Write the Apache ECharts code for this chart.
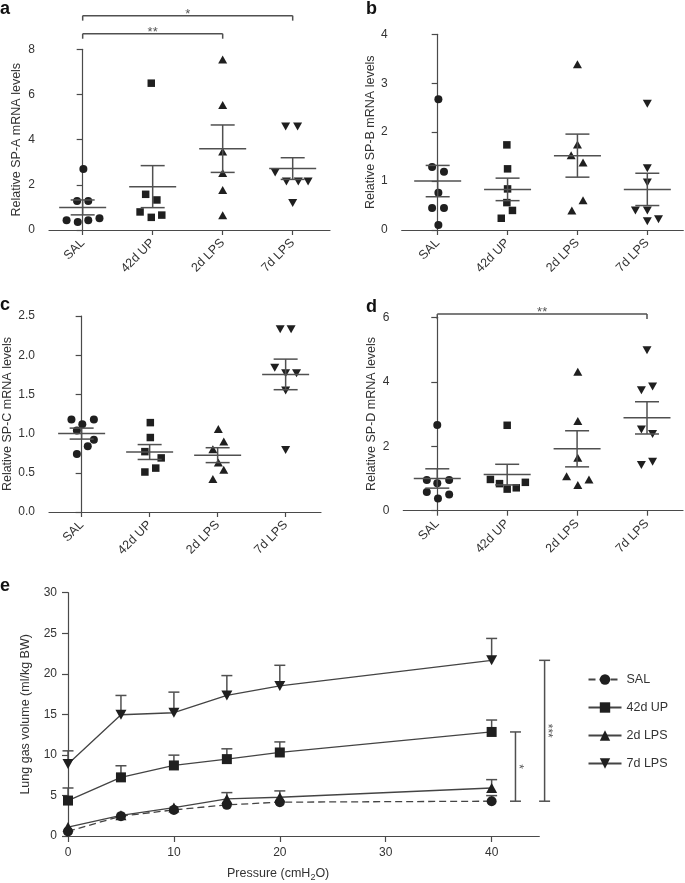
<!DOCTYPE html>
<html>
<head>
<meta charset="utf-8">
<script src="https://cdn.jsdelivr.net/npm/echarts@6/dist/echarts.min.js"></script>
<style>html,body{margin:0;padding:0;background:#fff}#chart{width:685px;height:883px}</style>
</head>
<body>
<div id="chart"></div>
<script>
// ---------------- DATA ----------------
const groups = ['SAL', '42d UP', '2d LPS', '7d LPS'];

// Panel a: SP-A
const spA_points = [
  [2.7, 1.28, 1.28, 0.43, 0.35, 0.43, 0.52],
  [6.5, 1.58, 1.33, 0.8, 0.56, 0.66],
  [7.55, 5.53, 3.47, 2.52, 1.77, 0.65],
  [4.58, 4.58, 2.55, 2.15, 2.15, 2.15, 1.2]
];
const spA_jitter = [
  [0.01, -0.08, 0.08, -0.23, -0.07, 0.08, 0.24],
  [-0.02, -0.10, 0.06, -0.18, -0.02, 0.13],
  [0, 0, 0, 0, 0, 0],
  [-0.10, 0.07, -0.25, -0.09, 0.08, 0.22, 0]
];
const spA_mean = [1.0, 1.92, 3.6, 2.72];
const spA_sem = [0.33, 0.93, 1.05, 0.48];
const spA_sig = [[0, 3, 9.49], [0, 2, 8.69]];
const spA_sigText = ['*', '**'];

// Panel b: SP-B
const spB_points = [
  [2.67, 1.29, 1.19, 0.76, 0.45, 0.45, 0.10],
  [1.74, 1.25, 0.84, 0.56, 0.40, 0.24],
  [3.39, 1.75, 1.53, 1.38, 0.61, 0.40],
  [2.58, 1.26, 0.97, 0.40, 0.40, 0.18, 0.22]
];
const spB_jitter = [
  [0.01, -0.08, 0.09, 0.01, -0.08, 0.09, 0.01],
  [-0.01, 0, 0, -0.01, 0.07, -0.09],
  [0, 0, -0.09, 0.08, 0.08, -0.08],
  [0, 0, 0, -0.17, 0, 0, 0.16]
];
const spB_mean = [1.0, 0.83, 1.52, 0.83];
const spB_sem = [0.32, 0.23, 0.44, 0.33];

// Panel c: SP-C
const spC_points = [
  [1.18, 1.18, 1.12, 1.04, 0.92, 0.84, 0.74],
  [1.14, 0.95, 0.77, 0.69, 0.56, 0.51],
  [1.06, 0.90, 0.80, 0.63, 0.54, 0.42],
  [2.33, 2.33, 1.84, 1.77, 1.77, 1.55, 0.79]
];
const spC_jitter = [
  [-0.15, 0.18, 0.01, -0.07, 0.18, 0.09, -0.07],
  [0.01, 0.01, -0.07, 0.17, 0.09, -0.07],
  [0.01, 0.09, -0.07, 0.01, 0.09, -0.07],
  [-0.08, 0.08, -0.16, 0, 0.16, 0, 0]
];
const spC_mean = [1.0, 0.765, 0.725, 1.755];
const spC_sem = [0.07, 0.095, 0.095, 0.195];

// Panel d: SP-D
const spD_points = [
  [2.66, 0.95, 0.95, 0.85, 0.58, 0.50, 0.38],
  [2.65, 0.97, 0.84, 0.67, 0.71, 0.88],
  [4.31, 2.78, 1.64, 1.07, 0.97, 0.80],
  [4.98, 3.85, 3.74, 2.52, 2.38, 1.52, 1.42]
];
const spD_jitter = [
  [0, -0.15, 0.17, 0, -0.15, 0.17, 0.01],
  [0, -0.24, -0.11, 0, 0.13, 0.26],
  [0.01, 0.01, 0.01, -0.15, 0.17, 0.01],
  [0, 0.08, -0.08, -0.08, 0.08, 0.08, -0.08]
];
const spD_mean = [1.0, 1.12, 1.92, 2.88];
const spD_sem = [0.3, 0.32, 0.56, 0.5];
const spD_sig = [[0, 3, 6.1]];
const spD_sigText = ['**'];

// Panel e: lung gas volume vs pressure
const pressure = [0, 5, 10, 15, 20, 40];
const vol_SAL   = [0.57, 2.45, 3.22, 3.84, 4.17, 4.29];
const vol_UP42  = [4.37, 7.23, 8.7, 9.48, 10.3, 12.83];
const vol_LPS2  = [1.1, 2.55, 3.5, 4.57, 4.78, 5.92];
const vol_LPS7  = [8.87, 14.95, 15.2, 17.33, 18.5, 21.66];
const top_SAL   = [null, null, null, null, null, 4.98];
const top_UP42  = [5.92, 8.66, 9.97, 10.75, 11.6, 14.3];
const top_LPS2  = [null, null, null, 5.35, 5.56, 6.95];
const top_LPS7  = [10.5, 17.33, 17.74, 19.78, 21.05, 24.36];
const pressureTicks = [0, 10, 20, 30, 40];
const e_sig = [[42.25, 4.29, 12.83], [45.0, 4.29, 21.66]];
const e_sigText = ['*', '***'];

// ---------------- STYLE ----------------
const FONT = "'Liberation Sans', Arial, Helvetica, sans-serif";
const INK = '#1f1f1f';
const AXIS = '#4a4a4a';
const TXT = '#333';
const BAR = '#505050';

const symbols = ['circle', 'rect', 'triangle', 'triangle'];
const rotations = [0, 0, 0, 180];
const symSizes = [8, 7.5, [9, 8], [9, 8]];

const panels = [
  {pts: spA_points, jit: spA_jitter, mean: spA_mean, sem: spA_sem, sig: spA_sig, sigText: spA_sigText,
   name: 'Relative SP-A mRNA levels', ymax: 8, yint: 2, dec: 0,
   grid: {left: 49, top: 49.3, width: 281, height: 180.7}, xr: [-0.481, 3.533], nameGap: 26},
  {pts: spB_points, jit: spB_jitter, mean: spB_mean, sem: spB_sem, sig: [], sigText: [],
   name: 'Relative SP-B mRNA levels', ymax: 4, yint: 1, dec: 0,
   grid: {left: 401.7, top: 34.3, width: 281.6, height: 195.7}, xr: [-0.515, 3.515], nameGap: 24},
  {pts: spC_points, jit: spC_jitter, mean: spC_mean, sem: spC_sem, sig: [], sigText: [],
   name: 'Relative SP-C mRNA levels', ymax: 2.5, yint: 0.5, dec: 1,
   grid: {left: 49, top: 316, width: 272, height: 196}, xr: [-0.48, 3.52], nameGap: 29},
  {pts: spD_points, jit: spD_jitter, mean: spD_mean, sem: spD_sem, sig: spD_sig, sigText: spD_sigText,
   name: 'Relative SP-D mRNA levels', ymax: 6, yint: 2, dec: 0,
   grid: {left: 403.3, top: 317.3, width: 279.7, height: 193.4}, xr: [-0.486, 3.515], nameGap: 25}
];

function lineEl(x1, y1, x2, y2) {
  return {type: 'line', shape: {x1, y1, x2, y2}, style: {stroke: BAR, lineWidth: 1.5}};
}

function meanSemRender(params, api) {
  const x = api.value(0), m = api.value(1), s = api.value(2);
  const c = api.coord([x, m]), t = api.coord([x, m + s]), b = api.coord([x, m - s]);
  return {type: 'group', children: [
    lineEl(c[0] - 23.5, c[1], c[0] + 23.5, c[1]),
    lineEl(t[0], t[1], b[0], b[1]),
    lineEl(t[0] - 12, t[1], t[0] + 12, t[1]),
    lineEl(b[0] - 12, b[1], b[0] + 12, b[1])
  ]};
}

function hBracketRender(texts) {
  return function (params, api) {
    const p1 = api.coord([api.value(0), api.value(2)]);
    const p2 = api.coord([api.value(1), api.value(2)]);
    return {type: 'group', children: [
      lineEl(p1[0], p1[1], p2[0], p2[1]),
      lineEl(p1[0], p1[1], p1[0], p1[1] + 5),
      lineEl(p2[0], p2[1], p2[0], p2[1] + 5),
      {type: 'text', style: {text: texts[params.dataIndex], x: (p1[0] + p2[0]) / 2, y: p1[1] - 1.5,
        align: 'center', verticalAlign: 'middle', fontSize: 13, fontFamily: FONT, fill: '#555'}}
    ]};
  };
}

function vBracketRender(texts) {
  return function (params, api) {
    const p1 = api.coord([api.value(0), api.value(1)]);
    const p2 = api.coord([api.value(0), api.value(2)]);
    return {type: 'group', children: [
      lineEl(p1[0], p1[1], p2[0], p2[1]),
      lineEl(p1[0] - 5.5, p1[1], p1[0] + 5.5, p1[1]),
      lineEl(p2[0] - 5.5, p2[1], p2[0] + 5.5, p2[1]),
      {type: 'text', x: p1[0] + 3, y: (p1[1] + p2[1]) / 2, rotation: -Math.PI / 2,
        style: {text: texts[params.dataIndex], x: 0, y: 0,
        align: 'center', verticalAlign: 'middle', fontSize: 12, fontFamily: FONT, fill: '#555'}}
    ]};
  };
}

function errTopRender(params, api) {
  const x = api.value(0), m = api.value(1), t = api.value(2);
  const c = api.coord([x, m]), p = api.coord([x, t]);
  return {type: 'group', children: [
    lineEl(c[0], c[1], p[0], p[1]),
    lineEl(p[0] - 5.5, p[1], p[0] + 5.5, p[1])
  ]};
}

const axisLineStyle = {show: true, lineStyle: {color: AXIS, width: 1.2}};
const tickStyle = {color: AXIS, width: 1.2};

const grids = [], xAxes = [], yAxes = [], series = [];

panels.forEach((p, i) => {
  grids.push(Object.assign({containLabel: false}, p.grid));
  xAxes.push({
    gridIndex: i, type: 'value', min: p.xr[0], max: p.xr[1],
    splitLine: {show: false}, axisLine: axisLineStyle,
    axisTick: {show: true, customValues: [0, 1, 2, 3], length: 5, lineStyle: tickStyle},
    axisLabel: {customValues: [0, 1, 2, 3], formatter: v => groups[Math.round(v)],
      rotate: 45, margin: 11, fontSize: 12.5, color: TXT, fontFamily: FONT}
  });
  yAxes.push({
    gridIndex: i, type: 'value', min: 0, max: p.ymax, interval: p.yint,
    name: p.name, nameLocation: 'middle', nameGap: p.nameGap,
    nameTextStyle: {fontSize: 12.5, color: TXT, fontFamily: FONT},
    splitLine: {show: false}, axisLine: axisLineStyle,
    axisTick: {show: true, length: 6, lineStyle: tickStyle},
    axisLabel: {margin: 14, fontSize: 12, color: TXT, fontFamily: FONT,
      formatter: v => v.toFixed(p.dec)}
  });
  p.pts.forEach((vals, g) => {
    series.push({
      type: 'scatter', name: 'p' + i + '-' + groups[g], xAxisIndex: i, yAxisIndex: i,
      symbol: symbols[g], symbolRotate: rotations[g], symbolSize: symSizes[g],
      itemStyle: {color: INK, opacity: 1}, clip: false, z: 2, silent: true,
      data: vals.map((v, k) => [g + p.jit[g][k], v])
    });
  });
  series.push({
    type: 'custom', xAxisIndex: i, yAxisIndex: i, renderItem: meanSemRender, clip: false, z: 3, silent: true,
    data: p.mean.map((m, g) => [g, m, p.sem[g]])
  });
  if (p.sig.length) {
    series.push({
      type: 'custom', xAxisIndex: i, yAxisIndex: i, renderItem: hBracketRender(p.sigText), clip: false, z: 3, silent: true,
      data: p.sig
    });
  }
});

// Panel e
const ei = 4;
grids.push({left: 68, top: 592.7, width: 471.3, height: 244.6});
xAxes.push({
  gridIndex: ei, type: 'value', min: 0, max: 44.5,
  name: 'Pressure (cmH{sub|2}O)', nameLocation: 'middle', nameGap: 30,
  nameTextStyle: {fontSize: 12.5, color: TXT, fontFamily: FONT, lineHeight: 16, padding: [0, 51, 0, 0],
    rich: {sub: {fontSize: 9, lineHeight: 8, verticalAlign: 'bottom', color: TXT, fontFamily: FONT}}},
  splitLine: {show: false}, axisLine: axisLineStyle,
  axisTick: {show: true, customValues: pressureTicks, length: 6, lineStyle: tickStyle},
  axisLabel: {customValues: pressureTicks, margin: 11, fontSize: 12, color: TXT, fontFamily: FONT}
});
yAxes.push({
  gridIndex: ei, type: 'value', min: 0, max: 30, interval: 5,
  name: 'Lung gas volume (ml/kg BW)', nameLocation: 'middle', nameGap: 36,
  nameTextStyle: {fontSize: 12.5, color: TXT, fontFamily: FONT},
  splitLine: {show: false}, axisLine: axisLineStyle,
  axisTick: {show: true, length: 6, lineStyle: tickStyle},
  axisLabel: {margin: 11, fontSize: 12, color: TXT, fontFamily: FONT}
});

const eSeries = [
  {name: 'SAL', vals: vol_SAL, tops: top_SAL, symbol: 'circle', rot: 0, size: 10, dash: [7, 4]},
  {name: '42d UP', vals: vol_UP42, tops: top_UP42, symbol: 'rect', rot: 0, size: 10, dash: 'solid'},
  {name: '2d LPS', vals: vol_LPS2, tops: top_LPS2, symbol: 'triangle', rot: 0, size: [11, 10], dash: 'solid'},
  {name: '7d LPS', vals: vol_LPS7, tops: top_LPS7, symbol: 'triangle', rot: 180, size: [11, 10], dash: 'solid'}
];
const errData = [];
eSeries.forEach(s => {
  series.push({
    type: 'line', name: s.name, xAxisIndex: ei, yAxisIndex: ei,
    symbol: s.symbol, symbolRotate: s.rot, symbolSize: s.size, showAllSymbol: true,
    lineStyle: {color: '#444', width: 1.3, type: s.dash},
    itemStyle: {color: INK, opacity: 1}, clip: false, z: 3, silent: true, animation: false,
    data: pressure.map((x, k) => [x, s.vals[k]])
  });
  pressure.forEach((x, k) => { if (s.tops[k] != null) errData.push([x, s.vals[k], s.tops[k]]); });
});
series.push({type: 'custom', xAxisIndex: ei, yAxisIndex: ei, renderItem: errTopRender, clip: false, z: 2, silent: true, data: errData});
series.push({type: 'custom', xAxisIndex: ei, yAxisIndex: ei, renderItem: vBracketRender(e_sigText), clip: false, z: 2, silent: true, data: e_sig});

const letters = [['a', 0, 0], ['b', 366, 0.5], ['c', 0, 296.5], ['d', 366, 298], ['e', 0, 577]];

const option = {
  animation: false,
  backgroundColor: '#fff',
  textStyle: {fontFamily: FONT},
  grid: grids, xAxis: xAxes, yAxis: yAxes, series: series,
  legend: {
    data: ['SAL', '42d UP', '2d LPS', '7d LPS'], orient: 'vertical', left: 587.5, top: 673, padding: 0,
    itemWidth: 33, itemHeight: 13, itemGap: 15, selectedMode: false,
    textStyle: {fontSize: 12.5, color: TXT, fontFamily: FONT}
  },
  graphic: letters.map(l => ({type: 'text', left: l[1], top: l[2],
    style: {text: l[0], fontSize: 18, fontWeight: 'bold', fill: '#111', fontFamily: FONT}}))
};

const chart = echarts.init(document.getElementById('chart'), null, {renderer: 'canvas'});
chart.setOption(option);
</script>
</body>
</html>
